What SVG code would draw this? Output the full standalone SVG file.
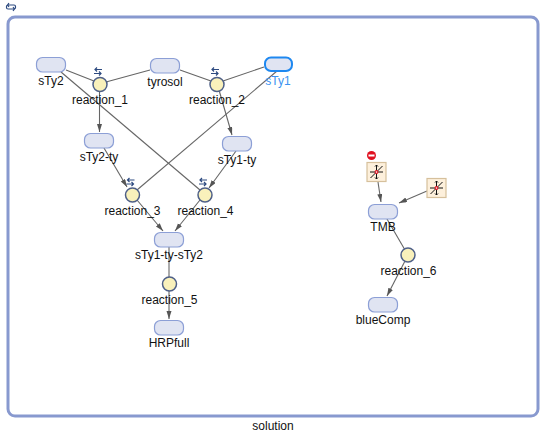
<svg xmlns="http://www.w3.org/2000/svg" width="549" height="435" viewBox="0 0 549 435">
<style>
text{font-family:"Liberation Sans",Arial,sans-serif;font-size:12px;fill:#111;text-anchor:middle}
.sp{fill:#e0e4f2;stroke:#8c9fd6;stroke-width:1.2}
.rx{fill:#f9f1bb;stroke:#4f6088;stroke-width:1.5}
.ln{stroke:#666;stroke-width:1.1;fill:none}
.ar{stroke:#666;stroke-width:1.1;fill:none;marker-end:url(#a)}
.rev{stroke:#2d4a80;stroke-width:1.2;fill:none}
.mod{fill:#fdf0dc;stroke:#d6c09c;stroke-width:1.2}
.cross{stroke:#111;stroke-width:1;fill:none}
</style>
<defs>
<marker id="a" markerWidth="9" markerHeight="6" refX="8" refY="2.500" orient="auto" markerUnits="userSpaceOnUse"><path d="M0 0L8 2.500L0 5z" fill="#555"/></marker>
<g id="revi"><path class="rev" d="M0 3H7M5 1L7 3L5 5M8 -1H1M3 -3L1 -1L3 1"/></g>
<g id="modi"><rect class="mod" x="-9.500" y="-9.500" width="19" height="19"/><path class="cross" d="M-6.500 0H6.500M0 -7V7M-6 6L6 -6M-1.500 -5.500L0 -7L1.500 -5.500M-1.500 5.500L0 7L1.500 5.500"/><circle cx="0" cy="0" r="1.400" fill="#fff" stroke="#e01020" stroke-width="1.100"/></g>
</defs>
<g id="header"><path class="rev" d="M8 5H14Q15.500 5 15.500 6.500V7.500Q15.500 9 14 9H8Q6.500 9 6.500 7.500V6.500Q6.500 5 8 5M9 3L7.500 5L9 7M13 7L14.500 9L13 11"/></g>
<g id="container"><rect x="8" y="17" width="530" height="399" rx="7" fill="#fff" stroke="#8899cf" stroke-width="3"/><text x="273" y="430">solution</text></g>
<g id="connectors">
<path class="ln" d="M66 70L94 81M106 82L150 70M180 70L211 81M223 81L264 67"/>
<path class="ar" d="M99.500 90V132"/>
<path class="ar" d="M219 90L232 135"/>
<path class="ln" d="M61 72L200 190"/>
<path class="ln" d="M277 71L137 190"/>
<path class="ar" d="M104 148L127 187"/>
<path class="ar" d="M236 151L209 188"/>
<path class="ar" d="M137 200L163 231"/>
<path class="ar" d="M200 200L175 231"/>
<path class="ln" d="M169 247V278"/>
<path class="ar" d="M169 290V319"/>
<path class="ar" d="M378 182L381 202"/>
<path class="ar" d="M427 191L399 203"/>
<path class="ln" d="M387 219L405 250"/>
<path class="ar" d="M405 261L387 296"/>
</g>
<g id="sTy2"><rect class="sp" x="36.500" y="57.500" width="29" height="14.500" rx="6"/><text x="51" y="85">sTy2</text></g>
<g id="tyrosol"><rect class="sp" x="150.500" y="58.500" width="29" height="14.500" rx="6"/><text x="165" y="86">tyrosol</text></g>
<g id="sTy1"><rect x="265" y="57.500" width="27" height="13.500" rx="6" fill="#e0e4f2" stroke="#1e88f0" stroke-width="2"/><text x="278" y="85" style="fill:#3b93f0">sTy1</text></g>
<g id="sTy2-ty"><rect class="sp" x="84.500" y="133.500" width="29" height="14.500" rx="6"/><text x="99" y="161">sTy2-ty</text></g>
<g id="sTy1-ty"><rect class="sp" x="222.500" y="136.500" width="29" height="14.500" rx="6"/><text x="237" y="164">sTy1-ty</text></g>
<g id="sTy1-ty-sTy2"><rect class="sp" x="154.500" y="232.500" width="29" height="14.500" rx="6"/><text x="169" y="259">sTy1-ty-sTy2</text></g>
<g id="HRPfull"><rect class="sp" x="154.500" y="320.500" width="29" height="14.500" rx="6"/><text x="169" y="347">HRPfull</text></g>
<g id="TMB"><rect class="sp" x="368.500" y="204.500" width="29" height="14.500" rx="6"/><text x="383" y="231">TMB</text></g>
<g id="blueComp"><rect class="sp" x="368.500" y="297.500" width="29" height="14.500" rx="6"/><text x="383" y="324">blueComp</text></g>
<g id="reaction_1"><circle class="rx" cx="100" cy="84.500" r="7"/><use href="#revi" x="94" y="70.500"/><text x="100" y="104">reaction_1</text></g>
<g id="reaction_2"><circle class="rx" cx="217" cy="84.500" r="7"/><use href="#revi" x="211" y="70.500"/><text x="217" y="104">reaction_2</text></g>
<g id="reaction_3"><circle class="rx" cx="132.500" cy="195" r="7"/><use href="#revi" x="126.500" y="181"/><text x="132.500" y="215">reaction_3</text></g>
<g id="reaction_4"><circle class="rx" cx="205" cy="195" r="7"/><use href="#revi" x="199" y="181"/><text x="205.500" y="215">reaction_4</text></g>
<g id="reaction_5"><circle class="rx" cx="169.500" cy="284" r="7"/><text x="169.500" y="304">reaction_5</text></g>
<g id="reaction_6"><circle class="rx" cx="408" cy="255" r="7"/><text x="408.500" y="275">reaction_6</text></g>
<g id="modifier_1"><use href="#modi" x="376.500" y="172"/><circle cx="371.500" cy="155.500" r="4.500" fill="#e01020"/><rect x="368.500" y="154.500" width="6" height="2" fill="#fff"/></g>
<g id="modifier_2"><use href="#modi" x="436.500" y="188"/></g>
</svg>
